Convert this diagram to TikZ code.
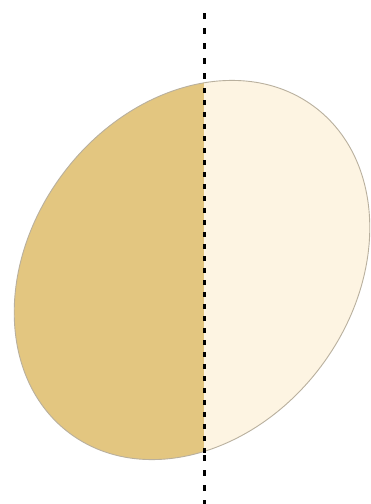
\documentclass[tikz,border=0pt]{standalone}
\definecolor{eggtan}{RGB}{227,198,128}
\definecolor{eggcream}{RGB}{253,244,226}
\definecolor{eggedge}{RGB}{185,176,158}
\tikzset{
  axisline/.style={line width=3pt, black, dash pattern=on 5pt off 7pt},
  axisout/.style={line width=3pt, black, dash pattern=on 6pt off 9pt},
  eggoutline/.style={draw=eggedge, line width=0.9pt}
}
\begin{document}
\begin{tikzpicture}[x=1pt,y=-1pt]
\useasboundingbox (0,0) rectangle (371,504);
\fill[white] (0,0) rectangle (371,504);
\def\eggpath{(192,270) ellipse [x radius=204, y radius=161, rotate=53]}
\begin{scope}
  \clip (0,0) rectangle (204,504);
  \fill[eggtan] \eggpath;
\end{scope}
\begin{scope}
  \clip (204,0) rectangle (371,504);
  \fill[eggcream] \eggpath;
\end{scope}
\draw[eggoutline] \eggpath;
\coordinate (topend) at (204,13);
\coordinate (eggtop) at (204,88);
\coordinate (eggbot) at (204,455);
\coordinate (botend) at (204,504);
\draw[axisout] (topend) -- (eggtop);
\draw[axisline] (eggtop) -- (eggbot);
\draw[axisout] (eggbot) -- (botend);
\end{tikzpicture}
\end{document}
